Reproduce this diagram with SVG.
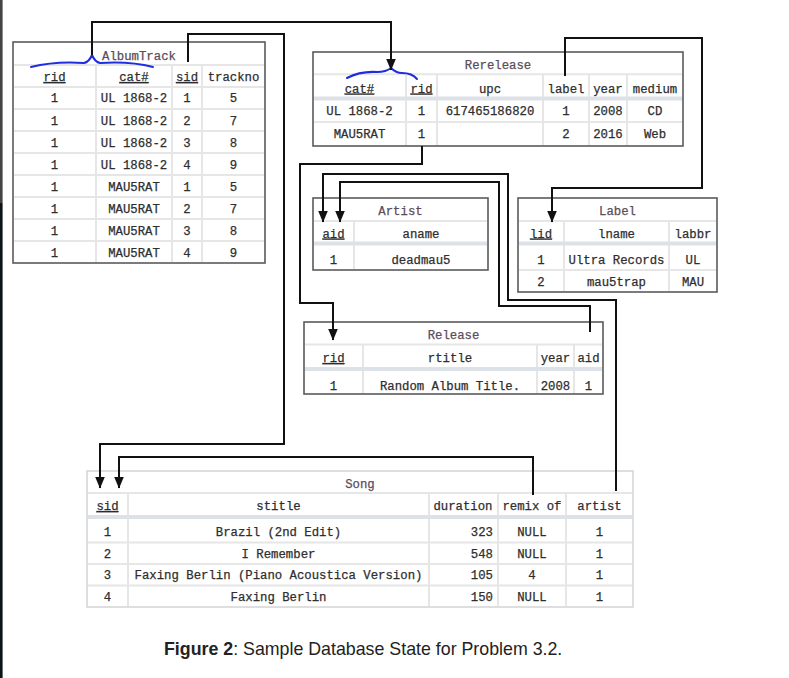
<svg xmlns="http://www.w3.org/2000/svg" width="789" height="678" viewBox="0 0 789 678">
<style>
.tb{fill:#fff;stroke:#5a5a5a;stroke-width:1.6}
.tbl{fill:#fff;stroke:#d4d4d4;stroke-width:1.5}
.g{stroke:#e6e6e6;stroke-width:2;fill:none}
.bar{fill:#dde2e9}
.t{font-family:"Liberation Mono","DejaVu Sans Mono",monospace;font-size:12.3px;fill:#2e2e2e;stroke:#2e2e2e;stroke-width:0.25;text-anchor:middle}
.ttl{fill:#5a4d5a;stroke:#5a4d5a}
.u{text-decoration:underline}
.r{text-anchor:end}
.c{fill:none;stroke:#111;stroke-width:2}
.brace{fill:none;stroke:#1f2de0;stroke-width:2;stroke-linecap:round}
.cap{font-family:"Liberation Sans",Arial,sans-serif;font-size:17.8px;fill:#222}
</style>
<defs>
<marker id="ah" viewBox="0 0 12 10" refX="11.5" refY="5" markerWidth="12" markerHeight="10" markerUnits="userSpaceOnUse" orient="auto">
<path d="M0,0 L12,5 L0,10 z" fill="#111"/>
</marker>
</defs>
<rect width="789" height="678" fill="#fff"/>
<rect x="0" y="0" width="2.6" height="203" fill="#444"/>
<rect x="0" y="203" width="2.6" height="475" fill="#0b1519"/>

<g id="albumtrack">
<rect class="tb" x="13" y="42" width="252" height="221"/>
<path class="g" d="M14,65H264M14,87H264M14,109H264M14,131H264M14,153H264M14,175H264M14,197H264M14,219H264M14,241H264M96,65V262M172,65V262M202,65V262"/>
<text class="t ttl" x="139" y="59.5">AlbumTrack</text>
<text class="t u" x="54.5" y="81">rid</text><text class="t u" x="134" y="81">cat#</text><text class="t u" x="187" y="81">sid</text><text class="t" x="233.5" y="81">trackno</text>
<text class="t" x="54.5" y="102">1</text><text class="t" x="134" y="102">UL 1868-2</text><text class="t" x="187" y="102">1</text><text class="t" x="233.5" y="102">5</text>
<text class="t" x="54.5" y="124.5">1</text><text class="t" x="134" y="124.5">UL 1868-2</text><text class="t" x="187" y="124.5">2</text><text class="t" x="233.5" y="124.5">7</text>
<text class="t" x="54.5" y="146.5">1</text><text class="t" x="134" y="146.5">UL 1868-2</text><text class="t" x="187" y="146.5">3</text><text class="t" x="233.5" y="146.5">8</text>
<text class="t" x="54.5" y="168.5">1</text><text class="t" x="134" y="168.5">UL 1868-2</text><text class="t" x="187" y="168.5">4</text><text class="t" x="233.5" y="168.5">9</text>
<text class="t" x="54.5" y="190.5">1</text><text class="t" x="134" y="190.5">MAU5RAT</text><text class="t" x="187" y="190.5">1</text><text class="t" x="233.5" y="190.5">5</text>
<text class="t" x="54.5" y="212.5">1</text><text class="t" x="134" y="212.5">MAU5RAT</text><text class="t" x="187" y="212.5">2</text><text class="t" x="233.5" y="212.5">7</text>
<text class="t" x="54.5" y="234.5">1</text><text class="t" x="134" y="234.5">MAU5RAT</text><text class="t" x="187" y="234.5">3</text><text class="t" x="233.5" y="234.5">8</text>
<text class="t" x="54.5" y="256.5">1</text><text class="t" x="134" y="256.5">MAU5RAT</text><text class="t" x="187" y="256.5">4</text><text class="t" x="233.5" y="256.5">9</text>
<path class="brace" d="M31,67 Q55,61 84,63 Q89,62 92,55 Q95,62 100,63 Q130,61 153,67"/>
</g>

<g id="rerelease">
<rect class="tb" x="313" y="52" width="370" height="94"/>
<path class="g" d="M314,74.3H682M314,122H682M406,75V145M437,75V145M543,75V145M589,75V145M627,75V145"/>
<rect class="bar" x="314" y="96.5" width="368" height="4"/>
<text class="t ttl" x="498" y="68.5">Rerelease</text>
<text class="t u" x="359.5" y="92.5">cat#</text><text class="t u" x="421.5" y="92.5">rid</text><text class="t" x="490" y="92.5">upc</text><text class="t" x="566" y="92.5">label</text><text class="t" x="608" y="92.5">year</text><text class="t" x="655" y="92.5">medium</text>
<text class="t" x="359.5" y="115">UL 1868-2</text><text class="t" x="421.5" y="115">1</text><text class="t" x="490" y="115">617465186820</text><text class="t" x="566" y="115">1</text><text class="t" x="608" y="115">2008</text><text class="t" x="655" y="115">CD</text>
<text class="t" x="359.5" y="137.5">MAU5RAT</text><text class="t" x="421.5" y="137.5">1</text><text class="t" x="566" y="137.5">2</text><text class="t" x="608" y="137.5">2016</text><text class="t" x="655" y="137.5">Web</text>
<path class="brace" d="M347,78 Q360,71 377,72 Q386,72 391,68 Q396,73 402,73 Q412,73 417,79"/>
</g>

<g id="artist">
<rect class="tb" x="313" y="198" width="175" height="72"/>
<path class="g" d="M314,221H487M354,221V269"/>
<rect class="bar" x="314" y="241.5" width="173" height="4"/>
<text class="t ttl" x="400.5" y="215">Artist</text>
<text class="t u" x="333.5" y="237.5">aid</text><text class="t" x="421" y="237.5">aname</text>
<text class="t" x="333.5" y="263.5">1</text><text class="t" x="421" y="263.5">deadmau5</text>
</g>

<g id="label">
<rect class="tb" x="518" y="198" width="199" height="94"/>
<path class="g" d="M519,221H716M519,270H716M564,221V291M669,221V291"/>
<rect class="bar" x="519" y="241.5" width="197" height="4"/>
<text class="t ttl" x="617.5" y="215">Label</text>
<text class="t u" x="541" y="237.5">lid</text><text class="t" x="616.5" y="237.5">lname</text><text class="t" x="693" y="237.5">labbr</text>
<text class="t" x="541" y="263.5">1</text><text class="t" x="616.5" y="263.5">Ultra Records</text><text class="t" x="693" y="263.5">UL</text>
<text class="t" x="541" y="286">2</text><text class="t" x="616.5" y="286">mau5trap</text><text class="t" x="693" y="286">MAU</text>
</g>

<g id="release">
<rect class="tb" x="304" y="322" width="299" height="72"/>
<path class="g" d="M305,344.5H602M363,345V393M537,345V393M574,345V393"/>
<rect class="bar" x="305" y="367" width="297" height="4"/>
<text class="t ttl" x="453.5" y="338.5">Release</text>
<text class="t u" x="333.5" y="362">rid</text><text class="t" x="450" y="362">rtitle</text><text class="t" x="555.5" y="362">year</text><text class="t" x="588.5" y="362">aid</text>
<text class="t" x="333.5" y="390">1</text><text class="t" x="450" y="390">Random Album Title.</text><text class="t" x="555.5" y="390">2008</text><text class="t" x="588.5" y="390">1</text>
</g>

<g id="song">
<rect class="tbl" x="87" y="471" width="546" height="136"/>
<path class="g" d="M88,493H632M88,542.5H632M88,564H632M88,585.5H632M128,493V606M429,493V606M498,493V606M566,493V606"/>
<rect class="bar" x="88" y="515" width="544" height="4"/>
<text class="t ttl" x="360" y="487.5">Song</text>
<text class="t u" x="107.5" y="510">sid</text><text class="t" x="278.5" y="510">stitle</text><text class="t" x="463" y="510">duration</text><text class="t" x="532" y="510">remix of</text><text class="t" x="599.5" y="510">artist</text>
<text class="t" x="107.5" y="536">1</text><text class="t" x="278.5" y="536">Brazil (2nd Edit)</text><text class="t r" x="493" y="536">323</text><text class="t" x="532" y="536">NULL</text><text class="t" x="599.5" y="536">1</text>
<text class="t" x="107.5" y="557.5">2</text><text class="t" x="278.5" y="557.5">I Remember</text><text class="t r" x="493" y="557.5">548</text><text class="t" x="532" y="557.5">NULL</text><text class="t" x="599.5" y="557.5">1</text>
<text class="t" x="107.5" y="579">3</text><text class="t" x="278.5" y="579">Faxing Berlin (Piano Acoustica Version)</text><text class="t r" x="493" y="579">105</text><text class="t" x="532" y="579">4</text><text class="t" x="599.5" y="579">1</text>
<text class="t" x="107.5" y="601">4</text><text class="t" x="278.5" y="601">Faxing Berlin</text><text class="t r" x="493" y="601">150</text><text class="t" x="532" y="601">NULL</text><text class="t" x="599.5" y="601">1</text>
</g>

<g id="connectors">
<path class="c" marker-end="url(#ah)" d="M92,55V22H391V70"/>
<path class="c" marker-end="url(#ah)" d="M188,62V34H284V444H100V488"/>
<path class="c" marker-end="url(#ah)" d="M533,495V457H119V488"/>
<path class="c" marker-end="url(#ah)" d="M616,491V300H508V174H323V222"/>
<path class="c" marker-end="url(#ah)" d="M422,146V164H300V303H333V340"/>
<path class="c" marker-end="url(#ah)" d="M565,76V38H702V188H552V222"/>
<path class="c" marker-end="url(#ah)" d="M590,332V306H499V182H340V222"/>
</g>

<text class="cap" x="164" y="655"><tspan font-weight="bold">Figure 2</tspan>: Sample Database State for Problem 3.2.</text>
</svg>
